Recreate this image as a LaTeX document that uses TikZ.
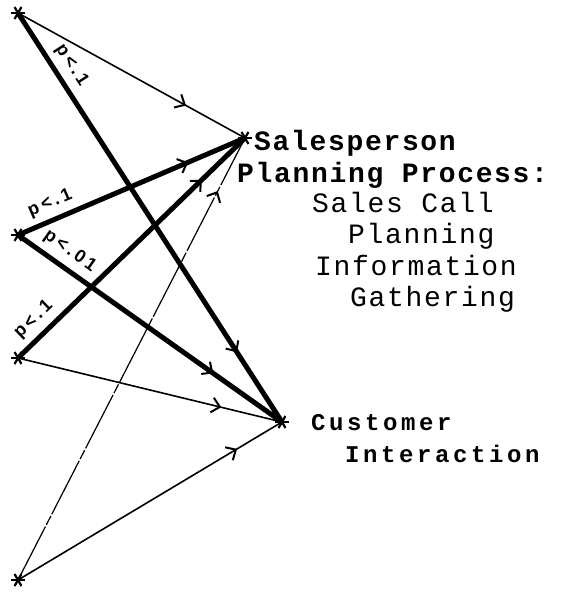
\documentclass[tikz,border=0pt]{standalone}
\usepackage{fontspec}
\usepackage{tikz}
\usetikzlibrary{arrows.meta,decorations.markings,positioning,calc}
\newfontfamily\boardfont[LetterSpace=6]{Liberation Mono}
\newfontfamily\smallboardfont[LetterSpace=15]{Liberation Mono}
\newfontfamily\handfont[LetterSpace=18]{Liberation Sans}

\begin{document}
\begin{tikzpicture}[
  x=1pt, y=-1pt,
  star/.style={circle, minimum size=14pt, inner sep=0pt,
    path picture={\foreach \a in {0,60,120}
      \draw[line width=2.2pt] (path picture bounding box.center) ++(\a:7pt) -- ++(\a+180:14pt);}},
  thickpath/.style={line width=5pt},
  thinpath/.style={line width=1.6pt},
  brokenpath/.style={line width=1.2pt, dash pattern=on 60pt off 2pt on 10pt off 2pt},
  arrowat/.style={postaction={decorate}, decoration={markings,
    mark=at position #1 with {\arrow[line width=2pt]{Straight Barb[length=8pt,width=15pt]}}}},
  plabel/.style={sloped, above, inner sep=6pt, font=\fontsize{18}{18}\selectfont\handfont\bfseries},
  bigtxt/.style={anchor=base west, inner sep=0pt, font=\fontsize{28}{28}\selectfont\boardfont\bfseries},
  lighttxt/.style={anchor=base west, inner sep=0pt, font=\fontsize{28}{28}\selectfont\boardfont},
  lowtxt/.style={anchor=base west, inner sep=0pt, font=\fontsize{24}{24}\selectfont\smallboardfont\bfseries},
]
\useasboundingbox (0,0) rectangle (565,592);
% end points
\node[star] (p1) at (18,13)  {};
\node[star] (p2) at (18,235) {};
\node[star] (p3) at (18,358) {};
\node[star] (p4) at (18,580) {};
\node[star] (sp) at (245,138) {};
\node[star] (ci) at (282,422) {};
% paths to salesperson planning
\draw[thinpath, arrowat=0.74] (p1.center) -- (sp.center);
\draw[thickpath, arrowat=0.75] (p2.center) -- node[plabel, pos=0.17] {p<.1} (sp.center);
\draw[thickpath, arrowat=0.81] (p3.center) -- node[plabel, pos=0.12] {p<.1} (sp.center);
\draw[brokenpath, arrowat=0.88] (p4.center) -- (sp.center);
% paths to customer interaction
\draw[thickpath, arrowat=0.83] (p1.center) -- node[plabel, pos=0.15] {p<.1} (ci.center);
\draw[thickpath, arrowat=0.74] (p2.center) -- node[plabel, pos=0.16] {p<.01} (ci.center);
\draw[thinpath, arrowat=0.77] (p3.center) -- (ci.center);
\draw[thinpath, arrowat=0.83] (p4.center) -- (ci.center);
% texts
\node[bigtxt] (spText1) at (254,150) {Salesperson};
\node[bigtxt] (spText2) at (237,182) {Planning Process:};
\node[lighttxt] (spText3) at (312,212) {Sales Call};
\node[lighttxt] (spText4) at (348,243) {Planning};
\node[lighttxt] (spText5) at (315,275) {Information};
\node[lighttxt] (spText6) at (350,306) {Gathering};
\node[lowtxt] (ciText1) at (311,430) {Customer};
\node[lowtxt] (ciText2) at (345,462) {Interaction};
\end{tikzpicture}
\end{document}
